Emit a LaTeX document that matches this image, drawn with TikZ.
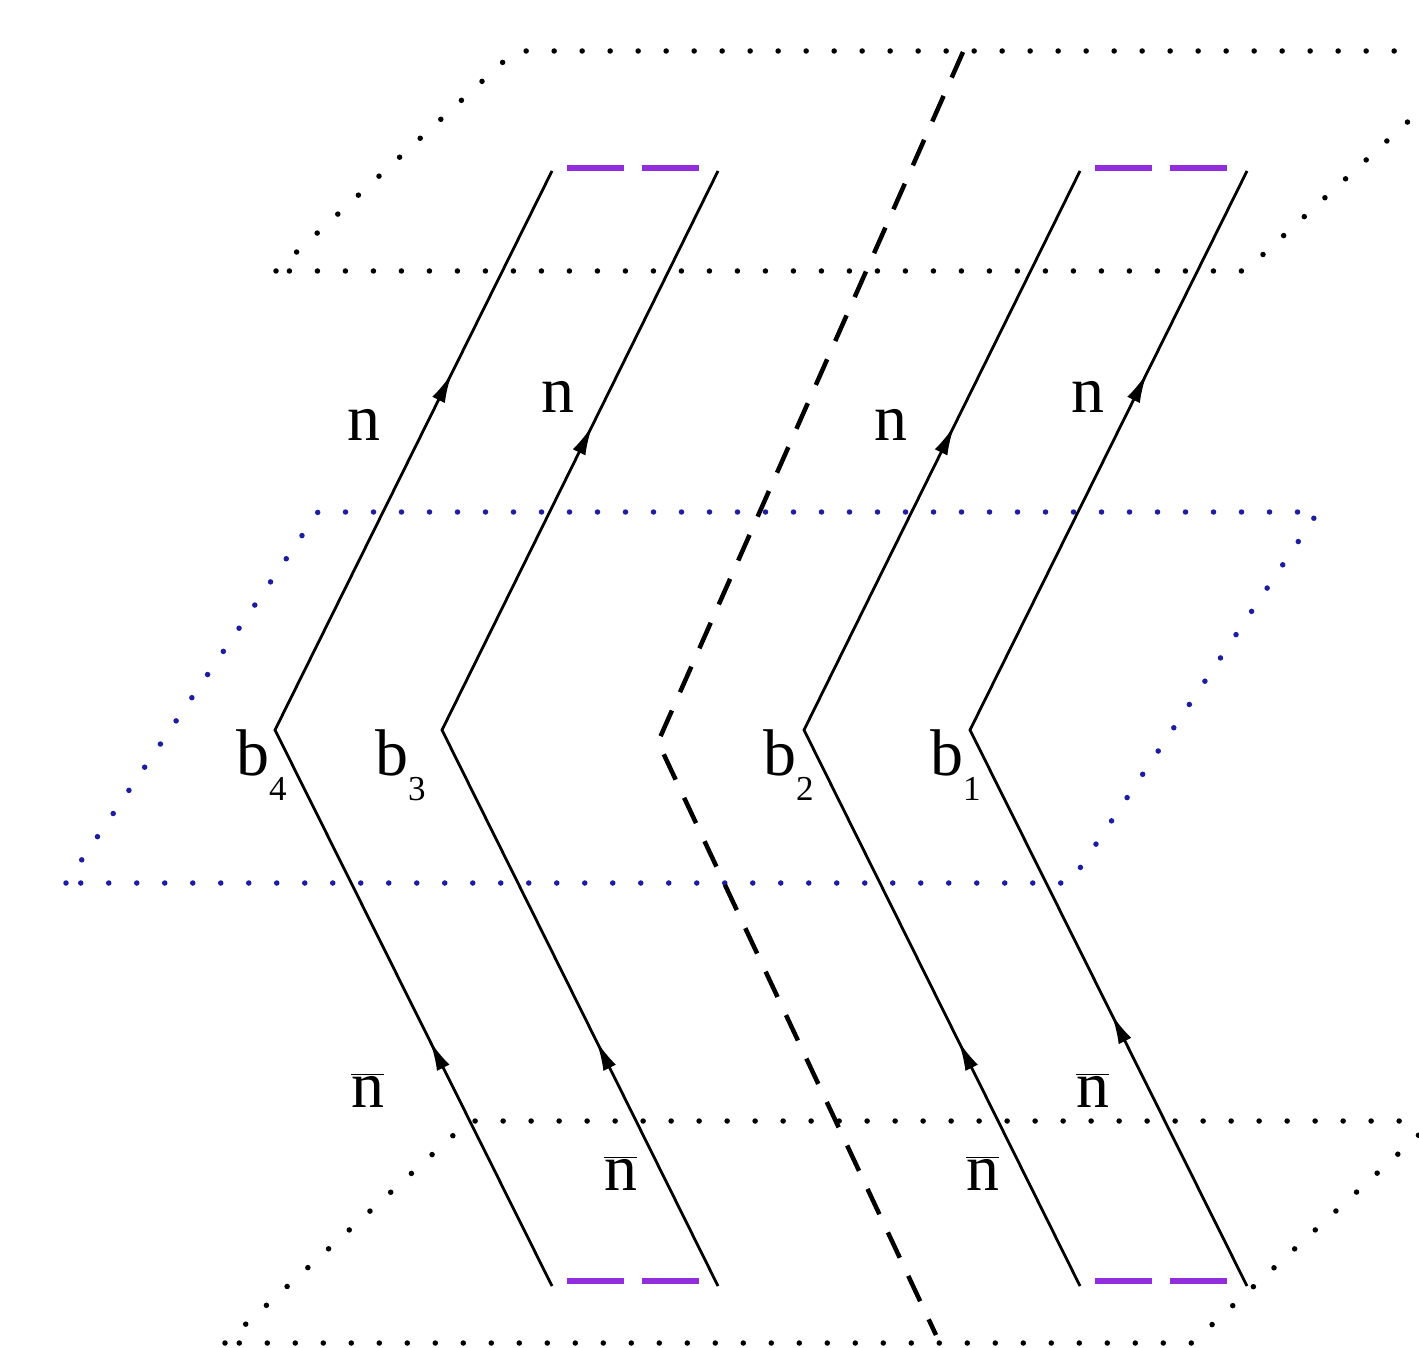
\documentclass[tikz,border=0pt]{standalone}
\usepackage{fontspec}
\setmainfont{Liberation Serif}
\usetikzlibrary{decorations.markings,arrows.meta}
\definecolor{planeblue}{RGB}{28,28,165}
\definecolor{gapviolet}{RGB}{145,45,220}
\begin{document}
\begin{tikzpicture}[x=1pt,y=-1pt,
  plane/.style={line width=5.5pt, line cap=round, dash pattern=on 0pt off 28pt},
  wline/.style={line width=2.8pt, line join=miter},
  cutline/.style={line width=4.5pt, dash pattern=on 28pt off 20pt},
  gapline/.style={gapviolet, line width=5.5pt, dash pattern=on 57pt off 18pt},
  lab/.style={inner sep=0pt, anchor=base west, font=\fontsize{66}{70}\selectfont},
  flowtip/.tip={Latex[length=30pt,width=14pt]},
  twoarrows/.style n args={2}{postaction={decorate}, decoration={markings,
      mark=at position #1 with {\arrow{flowtip}},
      mark=at position #2 with {\arrow{flowtip}}}},
]
\useasboundingbox (0,0) rectangle (1419,1348);
\clip (0,0) rectangle (1419,1348);
\fill[white] (0,0) rectangle (1419,1348);

% planes
\coordinate (tA) at (276,271); \coordinate (tB) at (515,51);
\coordinate (tC) at (1485,51); \coordinate (tD) at (1245,271);
\draw[plane] (tA) -- (tB) -- (tC) -- (tD) -- cycle;

\coordinate (mA) at (66,883); \coordinate (mB) at (318,512);
\coordinate (mC) at (1318,512); \coordinate (mD) at (1070,883);
\draw[plane, planeblue] (mA) -- (mB) -- (mC) -- (mD) -- cycle;

\coordinate (bA) at (225,1343); \coordinate (bB) at (469,1121);
\coordinate (bC) at (1434,1121); \coordinate (bD) at (1192,1343);
\draw[plane] (bA) -- (bB) -- (bC) -- (bD) -- cycle;

% cut line
\coordinate (cT) at (963,52); \coordinate (cV) at (658,742); \coordinate (cB) at (936,1335);
\draw[cutline] (cT) -- (cV) -- (cB);

% world lines
\coordinate (l4b) at (552,1286); \coordinate (v4) at (275,730); \coordinate (l4t) at (552,171);
\coordinate (l3b) at (718,1286); \coordinate (v3) at (442,730); \coordinate (l3t) at (718,171);
\coordinate (l2b) at (1080,1286); \coordinate (v2) at (804,730); \coordinate (l2t) at (1080,171);
\coordinate (l1b) at (1247,1286); \coordinate (v1) at (970,730); \coordinate (l1t) at (1247,171);

\draw[wline, twoarrows={0.22}{0.819}] (l4b) -- (v4) -- (l4t);
\draw[wline, twoarrows={0.22}{0.772}] (l3b) -- (v3) -- (l3t);
\draw[wline, twoarrows={0.22}{0.772}] (l2b) -- (v2) -- (l2t);
\draw[wline, twoarrows={0.244}{0.819}] (l1b) -- (v1) -- (l1t);

% gaps
\coordinate (g1a) at (567,168); \coordinate (g1b) at (710,168);
\coordinate (g2a) at (1095,168); \coordinate (g2b) at (1238,168);
\coordinate (g3a) at (567,1281); \coordinate (g3b) at (710,1281);
\coordinate (g4a) at (1095,1281); \coordinate (g4b) at (1238,1281);
\draw[gapline] (g1a) -- (g1b);
\draw[gapline] (g2a) -- (g2b);
\draw[gapline] (g3a) -- (g3b);
\draw[gapline] (g4a) -- (g4b);

% labels
\node[lab] (n4) at (347,440) {n};
\node[lab] (n3) at (541,412) {n};
\node[lab] (n2) at (874,440) {n};
\node[lab] (n1) at (1071,412) {n};

\node[lab] (nb4) at (351,1107) {$\overline{\mbox{n}}$};
\node[lab] (nb3) at (604,1190) {$\overline{\mbox{n}}$};
\node[lab] (nb2) at (966,1190) {$\overline{\mbox{n}}$};
\node[lab] (nb1) at (1076,1107) {$\overline{\mbox{n}}$};

\node[lab] (b4) at (236,775) {b\raisebox{-25pt}{\fontsize{35}{35}\selectfont 4}};
\node[lab] (b3) at (375,775) {b\raisebox{-25pt}{\fontsize{35}{35}\selectfont 3}};
\node[lab] (b2) at (763,775) {b\raisebox{-25pt}{\fontsize{35}{35}\selectfont 2}};
\node[lab] (b1) at (930,775) {b\raisebox{-25pt}{\fontsize{35}{35}\selectfont 1}};
\end{tikzpicture}
\end{document}
